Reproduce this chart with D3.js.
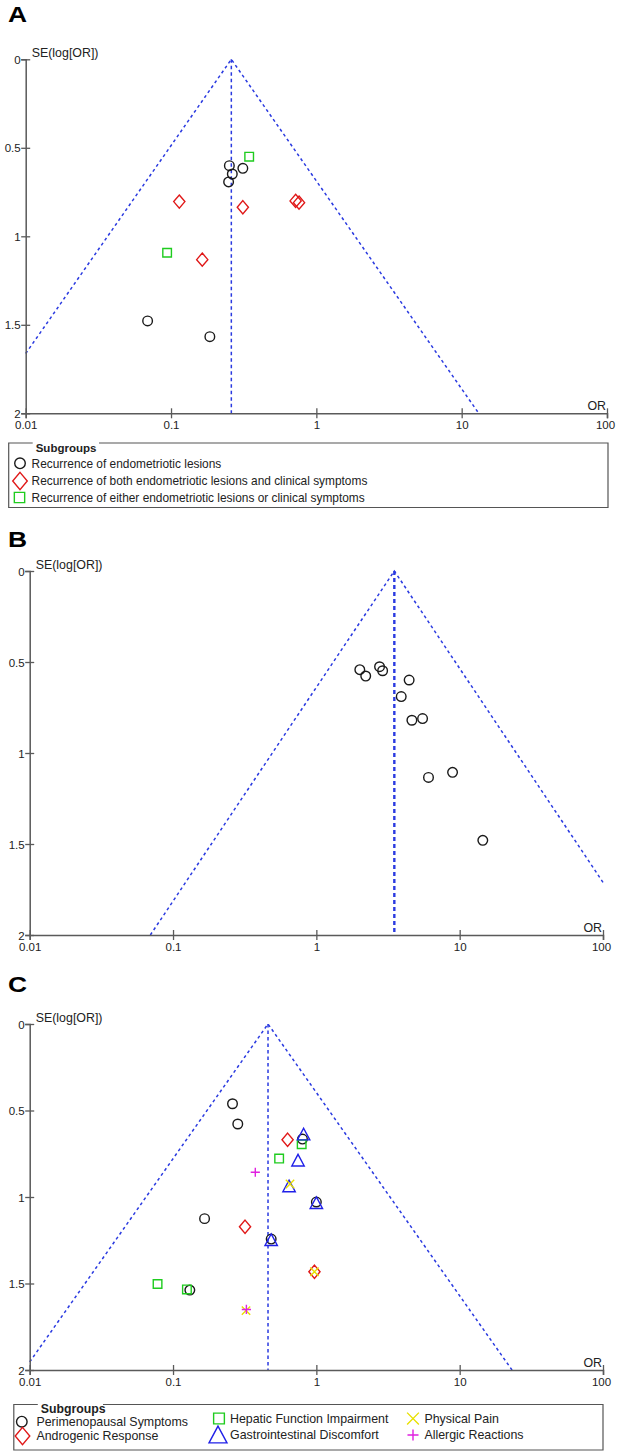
<!DOCTYPE html>
<html><head><meta charset="utf-8">
<script src="https://cdn.jsdelivr.net/npm/d3@7"></script>
<style>
html,body{margin:0;padding:0;background:#fff;}
svg{display:block;}
text{font-family:"Liberation Sans",Arial,sans-serif;}
</style></head>
<body>
<svg id="chart" width="617" height="1451"></svg>
<script>
// ---- shared axis ticks ----
const xTicks = [0.01, 0.1, 1, 10, 100];
const xTickLabels = ["0.01", "0.1", "1", "10", "100"];
const yTicks = [0, 0.5, 1, 1.5, 2];
const yTickLabels = ["0", "0.5", "1", "1.5", "2"];

// ---- Panel A ----
const aPooled = 0.26;
const aLesionsOR = [0.252, 0.312, 0.264, 0.249, 0.069, 0.185];
const aLesionsSE = [0.601, 0.616, 0.648, 0.693, 1.478, 1.567];
const aBothOR = [0.114, 0.312, 0.72, 0.76, 0.164];
const aBothSE = [0.804, 0.836, 0.80, 0.81, 1.132];
const aEitherOR = [0.345, 0.094];
const aEitherSE = [0.55, 1.093];
const aLegend = ["Recurrence of endometriotic lesions",
  "Recurrence of both endometriotic lesions and clinical symptoms",
  "Recurrence of either endometriotic lesions or clinical symptoms"];

// ---- Panel B ----
const bPooled = 3.5;
const bOR = [2.01, 2.21, 2.76, 2.90, 4.44, 3.91, 4.64, 5.51, 6.06, 8.92, 14.5];
const bSE = [0.542, 0.577, 0.526, 0.548, 0.599, 0.690, 0.820, 0.811, 1.134, 1.106, 1.480];

// ---- Panel C ----
const cPooled = 0.46;
const cPeriOR = [0.26, 0.283, 0.80, 1.0, 0.166, 0.484, 0.131];
const cPeriSE = [0.461, 0.578, 0.665, 1.029, 1.125, 1.243, 1.538];
const cAndroOR = [0.63, 0.318, 0.97];
const cAndroSE = [0.669, 1.172, 1.432];
const cHepOR = [0.79, 0.55, 0.078, 0.125];
const cHepSE = [0.695, 0.778, 1.503, 1.534];
const cGIOR = [0.815, 0.745, 0.645, 1.0, 0.484];
const cGISE = [0.636, 0.787, 0.936, 1.033, 1.247];
const cPainOR = [0.655, 0.97, 0.323];
const cPainSE = [0.925, 1.432, 1.657];
const cAllergyOR = [0.375, 0.325];
const cAllergySE = [0.857, 1.65];
const cLegend = ["Perimenopausal Symptoms", "Androgenic Response", "Hepatic Function Impairment",
  "Gastrointestinal Discomfort", "Physical Pain", "Allergic Reactions"];

const COL = {circle:"#1a1a1a", diamond:"#e01818", square:"#1fcc1f", tri:"#2020e8", x:"#e8e000", plus:"#e020e0", funnel:"#2a3ae0", axis:"#5a5a5a"};

const svg = d3.select("#chart");

// marker path generators (centered at cx, cy)
const marker = {
  circle: (cx, cy, s=1) => { const r = 4.8*s; return `M${cx+r},${cy}A${r},${r} 0 1,1 ${cx-r},${cy}A${r},${r} 0 1,1 ${cx+r},${cy}Z`; },
  diamond: (cx, cy, s=1) => { const w = 5.6*s, h = 6.6*s; return `M${cx},${cy-h}L${cx+w},${cy}L${cx},${cy+h}L${cx-w},${cy}Z`; },
  square: (cx, cy, s=1) => { const h = 4.3*s; return `M${cx-h},${cy-h}H${cx+h}V${cy+h}H${cx-h}Z`; },
  tri: (cx, cy, s=1) => { const w = 6.2*s, h = 5.8*s; return `M${cx},${cy-h}L${cx+w},${cy+h}L${cx-w},${cy+h}Z`; },
  x: (cx, cy, s=1) => { const h = 4.2*s; return `M${cx-h},${cy-h}L${cx+h},${cy+h}M${cx-h},${cy+h}L${cx+h},${cy-h}`; },
  plus: (cx, cy, s=1) => { const h = 4.6*s; return `M${cx-h},${cy}H${cx+h}M${cx},${cy-h}V${cy+h}`; }
};

function panel(cfg) {
  const g = svg.append("g");
  const x = d3.scaleLog().domain([0.01, 100]).range([cfg.x0, cfg.x1]);
  const y = d3.scaleLinear().domain([0, 2]).range([cfg.y0, cfg.y1]);

  // panel letter
  g.append("text").attr("x", 8).attr("y", cfg.letterY).attr("font-size", 22).attr("font-weight", "bold")
    .attr("fill", "#000").attr("transform", `translate(8,${cfg.letterY}) scale(1.2,1) translate(-8,${-cfg.letterY})`)
    .text(cfg.letter);

  // funnel
  const z = 1.96;
  let lo = cfg.pooled * Math.exp(-z * 2), loSE = 2;
  if (lo < 0.01) { lo = 0.01; loSE = Math.log(cfg.pooled / 0.01) / z; }
  let hi = cfg.pooled * Math.exp(z * 2), hiSE = 2;
  if (hi > 100) { hi = 100; hiSE = Math.log(100 / cfg.pooled) / z; }
  const line = d3.line().x(d => x(d[0])).y(d => y(d[1]));
  g.append("path").attr("d", line([[lo, loSE], [cfg.pooled, 0], [hi, hiSE]]))
    .attr("fill", "none").attr("stroke", COL.funnel).attr("stroke-width", 1.5).attr("stroke-dasharray", "3,3");
  g.append("path").attr("d", line([[cfg.pooled, 0], [cfg.pooled, 2]]))
    .attr("fill", "none").attr("stroke", COL.funnel).attr("stroke-width", cfg.thick ? 2.4 : 1.5)
    .attr("stroke-dasharray", cfg.thick ? "4,3" : "3.5,3");

  // axes
  const xa = g.append("g").attr("transform", `translate(0,${cfg.y1})`)
    .call(d3.axisBottom(x).tickValues(xTicks).tickSizeOuter(0).tickSize(5).tickFormat((d, i) => xTickLabels[i]));
  xa.selectAll(".tick line").attr("y1", -5).attr("y2", 5);
  const ya = g.append("g").attr("transform", `translate(${cfg.x0},0)`)
    .call(d3.axisLeft(y).tickValues(yTicks).tickSizeOuter(0).tickSize(4.5).tickFormat((d, i) => yTickLabels[i]));
  ya.selectAll(".tick line").attr("x1", -4.5).attr("x2", 4.5);
  [xa, ya].forEach(a => {
    a.select(".domain").attr("stroke", COL.axis).attr("stroke-width", 1.5);
    a.selectAll(".tick line").attr("stroke", COL.axis).attr("stroke-width", 1.3);
    a.selectAll(".tick text").attr("fill", "#222").attr("font-size", 11.5)
      .attr("font-family", '"Liberation Sans",Arial,sans-serif');
  });
  xa.selectAll(".tick text").attr("y", 8).attr("dy", "0.71em");
  ya.selectAll(".tick text").attr("x", -5).attr("dy", "0.35em");
  xa.selectAll(".tick").filter(d => d === 100).select("text").attr("dx", -2);

  // axis titles
  g.append("text").attr("x", cfg.x0 + 6).attr("y", cfg.y0 - 2.5).attr("font-size", 12.4).attr("fill", "#222").text("SE(log[OR])");
  g.append("text").attr("x", cfg.x1 - 1).attr("y", cfg.y1 - 3.5).attr("font-size", 12.4).attr("fill", "#222")
    .attr("text-anchor", "end").text("OR");

  // points
  cfg.series.forEach(s => {
    const pts = s.or.map((v, i) => [v, s.se[i]]);
    g.append("g").selectAll("path").data(pts).join("path")
      .attr("d", d => marker[s.shape](x(d[0]), y(d[1])))
      .attr("fill", "none").attr("stroke", s.color).attr("stroke-width", s.shape === "x" || s.shape === "plus" ? 1.4 : 1.4);
  });
  return g;
}

function legendBox(cfg) {
  const g = svg.append("g");
  const gap0 = cfg.left + 24, gap1 = cfg.titleEnd;
  g.append("path").attr("d", `M${gap0},${cfg.top}H${cfg.left}V${cfg.bottom}H${cfg.right}V${cfg.top}H${gap1}`)
    .attr("fill", "none").attr("stroke", "#555").attr("stroke-width", 1.2);
  g.append("text").attr("x", gap0 + 3).attr("y", cfg.top + 8.5).attr("font-size", cfg.titleSize)
    .attr("font-weight", "bold").attr("fill", "#222").text("Subgroups");
  cfg.items.forEach(it => {
    g.append("path").attr("d", marker[it.shape](it.sx, it.y, it.scale))
      .attr("fill", "none").attr("stroke", it.color).attr("stroke-width", 1.4);
    g.append("text").attr("x", it.tx).attr("y", it.y).attr("dy", "0.36em").attr("font-size", cfg.fontSize)
      .attr("fill", "#222").text(it.label);
  });
}

// Panel A
panel({letter: "A", letterY: 22, x0: 25.7, x1: 607, y0: 59.3, y1: 413.3, pooled: aPooled, thick: false,
  series: [
    {or: aLesionsOR, se: aLesionsSE, shape: "circle", color: COL.circle},
    {or: aBothOR, se: aBothSE, shape: "diamond", color: COL.diamond},
    {or: aEitherOR, se: aEitherSE, shape: "square", color: COL.square}
  ]});
legendBox({left: 8.7, right: 608, top: 443, bottom: 507.5, titleEnd: 99, titleSize: 11.5, fontSize: 11.9,
  items: [
    {shape: "circle", color: COL.circle, scale: 1.1, sx: 20, y: 463.3, tx: 31.6, label: aLegend[0]},
    {shape: "diamond", color: COL.diamond, scale: 1.3, sx: 20, y: 481, tx: 31.6, label: aLegend[1]},
    {shape: "square", color: COL.square, scale: 1.2, sx: 19.5, y: 497.5, tx: 31.6, label: aLegend[2]}
  ]});

// Panel B
panel({letter: "B", letterY: 547, x0: 29.7, x1: 603, y0: 571, y1: 935, pooled: bPooled, thick: true,
  series: [{or: bOR, se: bSE, shape: "circle", color: COL.circle}]});

// Panel C
panel({letter: "C", letterY: 992, x0: 29.7, x1: 603, y0: 1024, y1: 1370, pooled: cPooled, thick: false,
  series: [
    {or: cPeriOR, se: cPeriSE, shape: "circle", color: COL.circle},
    {or: cAndroOR, se: cAndroSE, shape: "diamond", color: COL.diamond},
    {or: cHepOR, se: cHepSE, shape: "square", color: COL.square},
    {or: cGIOR, se: cGISE, shape: "tri", color: COL.tri},
    {or: cPainOR, se: cPainSE, shape: "x", color: COL.x},
    {or: cAllergyOR, se: cAllergySE, shape: "plus", color: COL.plus}
  ]});
legendBox({left: 13.8, right: 603, top: 1404.5, bottom: 1450, titleEnd: 103, titleSize: 12.3, fontSize: 12.4,
  items: [
    {shape: "circle", color: COL.circle, scale: 1.1, sx: 21.8, y: 1421.7, tx: 36.4, label: cLegend[0]},
    {shape: "diamond", color: COL.diamond, scale: 1.3, sx: 22.5, y: 1436, tx: 36.4, label: cLegend[1]},
    {shape: "square", color: COL.square, scale: 1.25, sx: 219, y: 1418.5, tx: 230, label: cLegend[2]},
    {shape: "tri", color: COL.tri, scale: 1.45, sx: 218, y: 1434.5, tx: 230, label: cLegend[3]},
    {shape: "x", color: COL.x, scale: 1.4, sx: 413, y: 1418.5, tx: 424.4, label: cLegend[4]},
    {shape: "plus", color: COL.plus, scale: 1.2, sx: 413, y: 1435, tx: 424.4, label: cLegend[5]}
  ]});
</script>
</body></html>
